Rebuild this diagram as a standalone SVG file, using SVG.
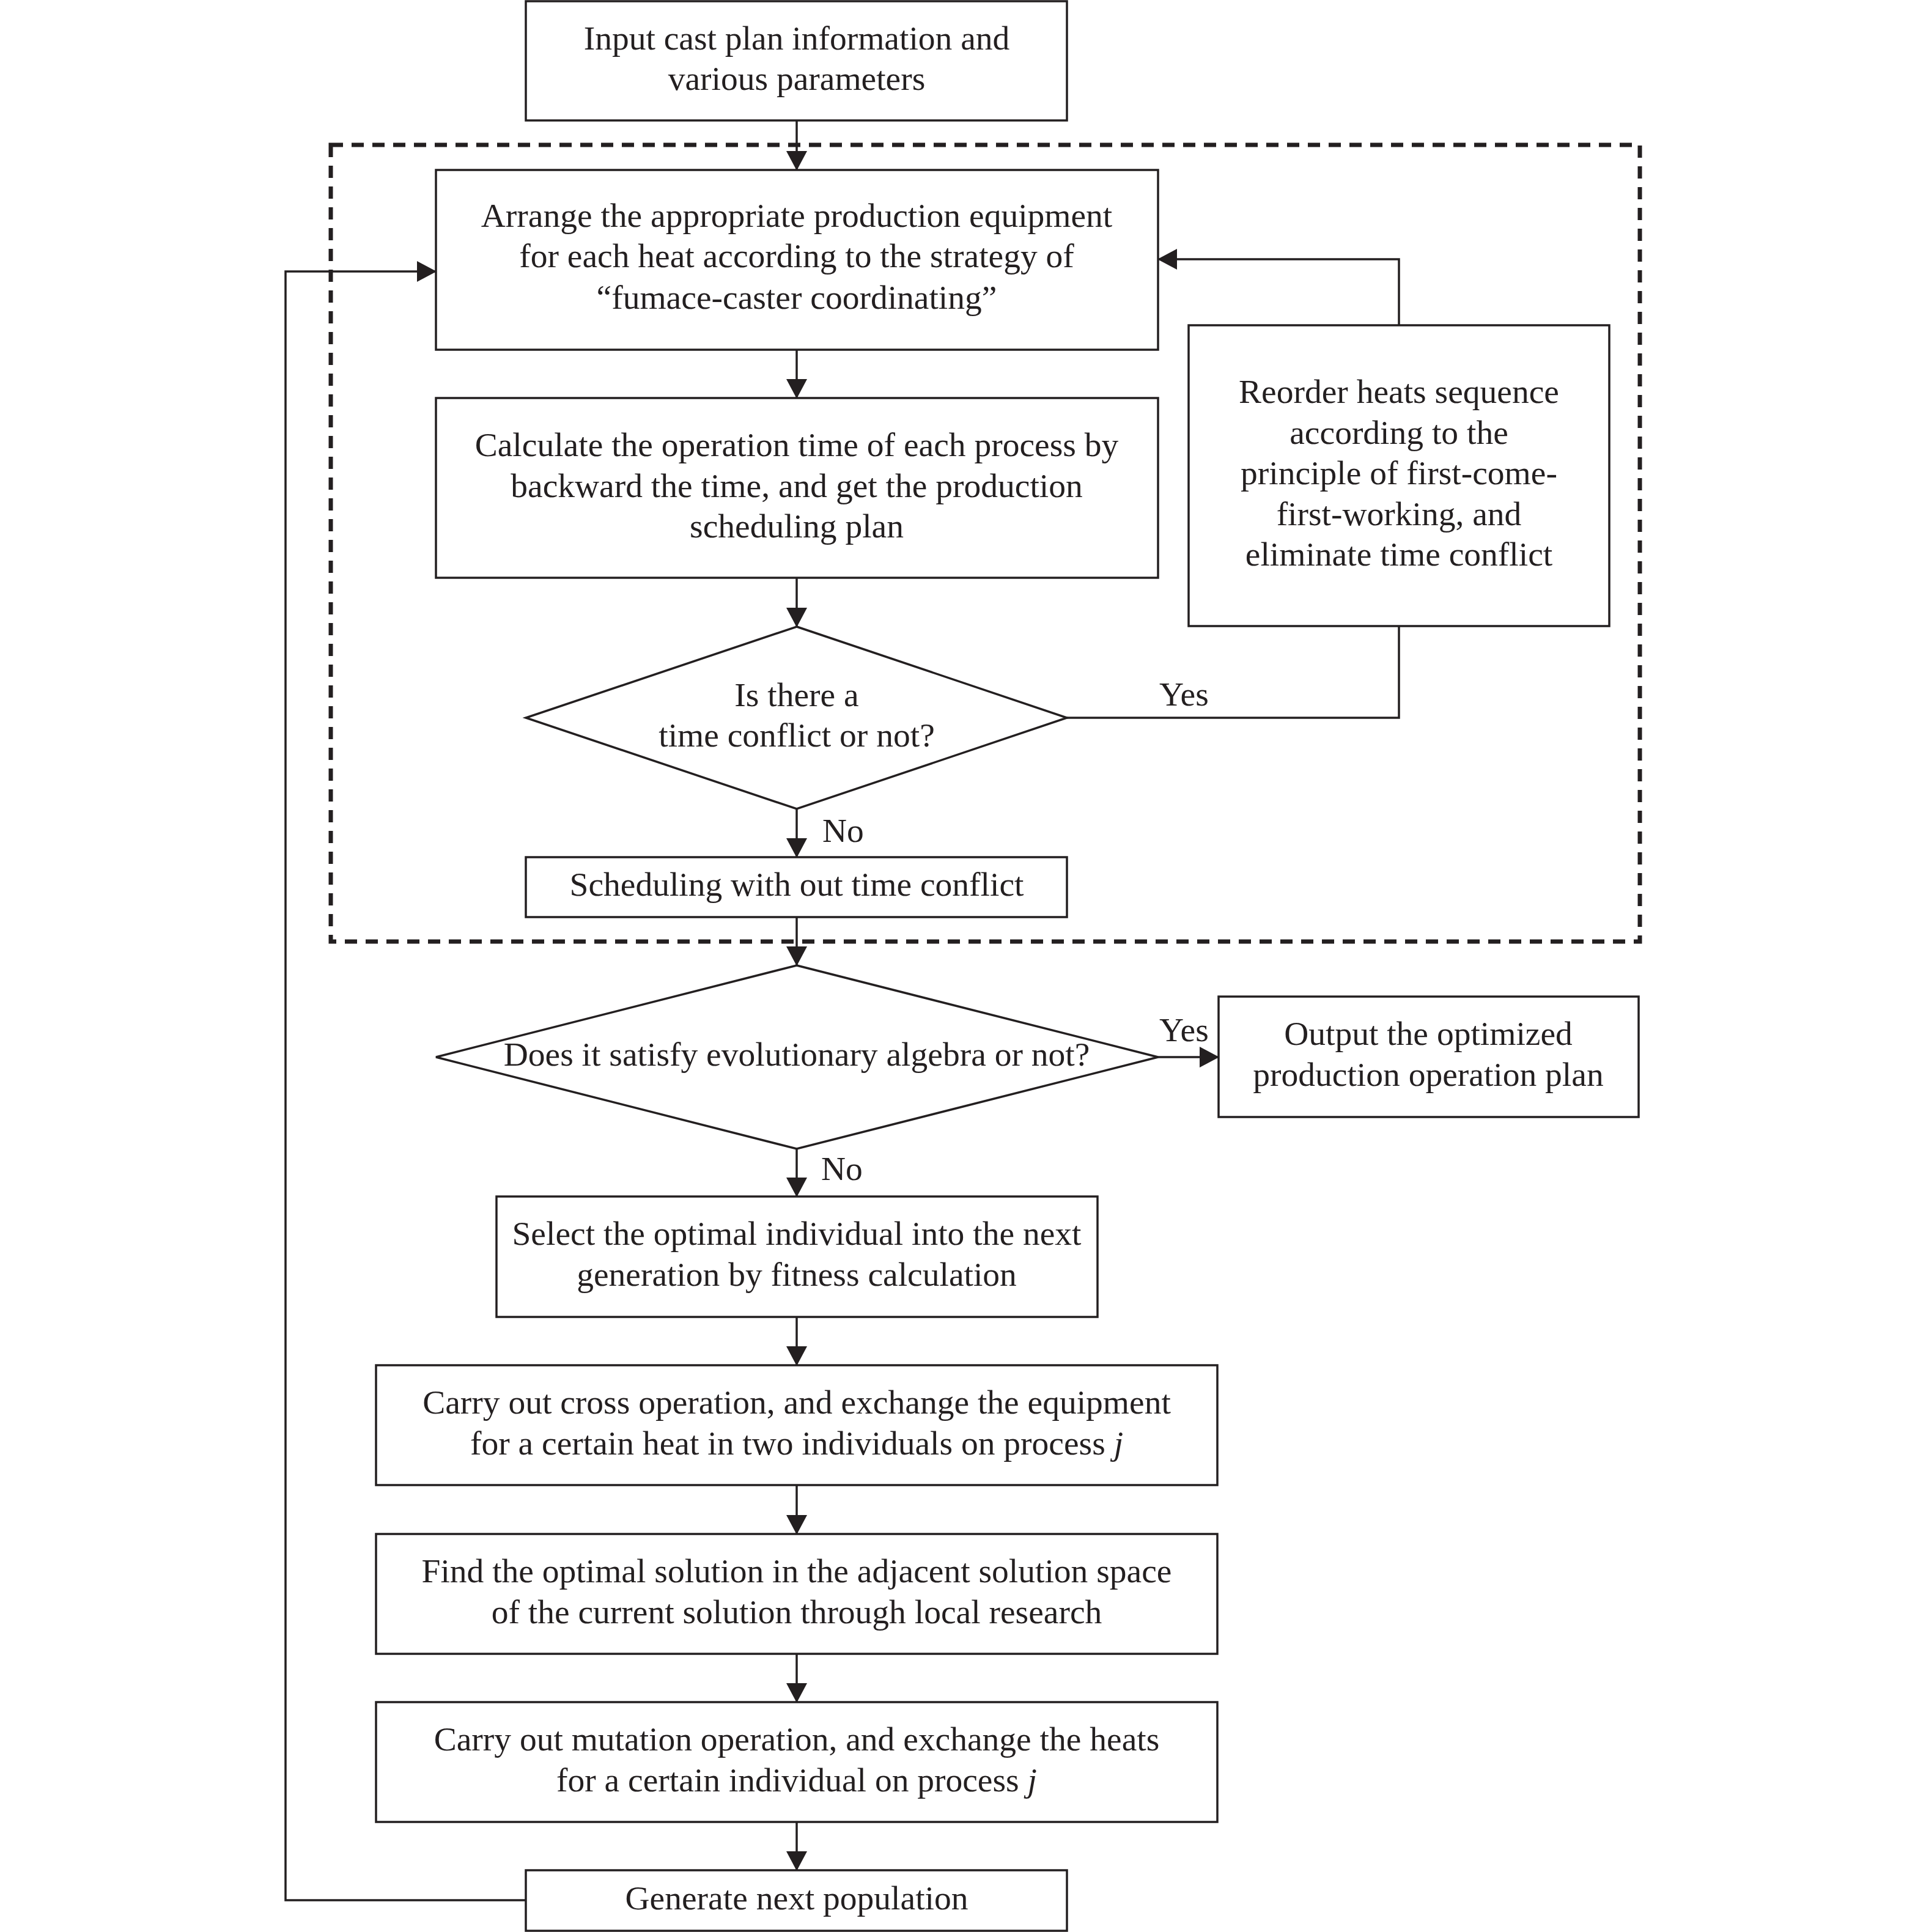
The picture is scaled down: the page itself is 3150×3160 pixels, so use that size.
<svg xmlns="http://www.w3.org/2000/svg" width="3150" height="3160" viewBox="0 0 3150 3160">
<style>
.box{fill:#fff;stroke:#231f20;stroke-width:3.5}
.ln{fill:none;stroke:#231f20;stroke-width:3.5}
.dash{fill:none;stroke:#231f20;stroke-width:7;stroke-dasharray:20 14}
text{font-family:"Liberation Serif","Times New Roman",serif;font-size:55.5px;fill:#231f20}
.c{text-anchor:middle}
</style>
<defs>
<marker id="ah" markerUnits="userSpaceOnUse" markerWidth="32" markerHeight="34" viewBox="0 0 32 34" refX="31" refY="17" orient="auto">
<path d="M0,0 L32,17 L0,34 Z" fill="#231f20"/>
</marker>
</defs>
<rect id="loop" class="dash" x="541" y="237" width="2141" height="1303"/>
<g id="connectors">
<line class="ln" x1="1303" y1="197" x2="1303" y2="278" marker-end="url(#ah)"/>
<line class="ln" x1="1303" y1="572" x2="1303" y2="651" marker-end="url(#ah)"/>
<line class="ln" x1="1303" y1="945" x2="1303" y2="1025" marker-end="url(#ah)"/>
<line class="ln" x1="1303" y1="1323" x2="1303" y2="1402" marker-end="url(#ah)"/>
<line class="ln" x1="1303" y1="1500" x2="1303" y2="1579" marker-end="url(#ah)"/>
<line class="ln" x1="1894" y1="1729" x2="1993" y2="1729" marker-end="url(#ah)"/>
<line class="ln" x1="1303" y1="1879" x2="1303" y2="1957" marker-end="url(#ah)"/>
<line class="ln" x1="1303" y1="2154" x2="1303" y2="2233" marker-end="url(#ah)"/>
<line class="ln" x1="1303" y1="2429" x2="1303" y2="2509" marker-end="url(#ah)"/>
<line class="ln" x1="1303" y1="2705" x2="1303" y2="2784" marker-end="url(#ah)"/>
<line class="ln" x1="1303" y1="2980" x2="1303" y2="3059" marker-end="url(#ah)"/>
<polyline class="ln" points="1745,1174 2288,1174 2288,1024"/>
<polyline class="ln" points="2288,532 2288,424 1894,424" marker-end="url(#ah)"/>
<polyline class="ln" points="860,3108 467,3108 467,444 713,444" marker-end="url(#ah)"/>
<text x="1896" y="1154">Yes</text>
<text x="1345" y="1377">No</text>
<text x="1896" y="1703">Yes</text>
<text x="1343" y="1930">No</text>
</g>
<g id="n-input">
<rect class="box" x="860" y="2" width="885" height="195"/>
<text class="c" x="1303" y="81">Input cast plan information and</text>
<text class="c" x="1303" y="147">various parameters</text>
</g>
<g id="n-arrange">
<rect class="box" x="713" y="278" width="1181" height="294"/>
<text class="c" x="1303" y="371">Arrange the appropriate production equipment</text>
<text class="c" x="1303" y="437">for each heat according to the strategy of</text>
<text class="c" x="1303" y="505">“fumace-caster coordinating”</text>
</g>
<g id="n-calc">
<rect class="box" x="713" y="651" width="1181" height="294"/>
<text class="c" x="1303" y="746">Calculate the operation time of each process by</text>
<text class="c" x="1303" y="813">backward the time, and get the production</text>
<text class="c" x="1303" y="879">scheduling plan</text>
</g>
<g id="n-reorder">
<rect class="box" x="1944" y="532" width="688" height="492"/>
<text class="c" x="2288" y="659">Reorder heats sequence</text>
<text class="c" x="2288" y="726">according to the</text>
<text class="c" x="2288" y="792">principle of first-come-</text>
<text class="c" x="2288" y="859">first-working, and</text>
<text class="c" x="2288" y="925">eliminate time conflict</text>
</g>
<g id="n-conflict">
<polygon class="box" points="1303,1025 1745,1174 1303,1323 860,1174"/>
<text class="c" x="1303" y="1155">Is there a</text>
<text class="c" x="1303" y="1221">time conflict or not?</text>
</g>
<g id="n-sched">
<rect class="box" x="860" y="1402" width="885" height="98"/>
<text class="c" x="1303" y="1465">Scheduling with out time conflict</text>
</g>
<g id="n-evo">
<polygon class="box" points="1303,1579 1894,1729 1303,1879 713,1729"/>
<text class="c" x="1303" y="1743">Does it satisfy evolutionary algebra or not?</text>
</g>
<g id="n-output">
<rect class="box" x="1993" y="1630" width="687" height="197"/>
<text class="c" x="2336" y="1709">Output the optimized</text>
<text class="c" x="2336" y="1776">production operation plan</text>
</g>
<g id="n-select">
<rect class="box" x="812" y="1957" width="983" height="197"/>
<text class="c" x="1303" y="2036">Select the optimal individual into the next</text>
<text class="c" x="1303" y="2103">generation by fitness calculation</text>
</g>
<g id="n-cross">
<rect class="box" x="615" y="2233" width="1376" height="196"/>
<text class="c" x="1303" y="2312">Carry out cross operation, and exchange the equipment</text>
<text class="c" x="1303" y="2379">for a certain heat in two individuals on process <tspan font-style="italic">j</tspan></text>
</g>
<g id="n-find">
<rect class="box" x="615" y="2509" width="1376" height="196"/>
<text class="c" x="1303" y="2588">Find the optimal solution in the adjacent solution space</text>
<text class="c" x="1303" y="2655">of the current solution through local research</text>
</g>
<g id="n-mutation">
<rect class="box" x="615" y="2784" width="1376" height="196"/>
<text class="c" x="1303" y="2863">Carry out mutation operation, and exchange the heats</text>
<text class="c" x="1303" y="2930">for a certain individual on process <tspan font-style="italic">j</tspan></text>
</g>
<g id="n-generate">
<rect class="box" x="860" y="3059" width="885" height="99"/>
<text class="c" x="1303" y="3123">Generate next population</text>
</g>
</svg>
